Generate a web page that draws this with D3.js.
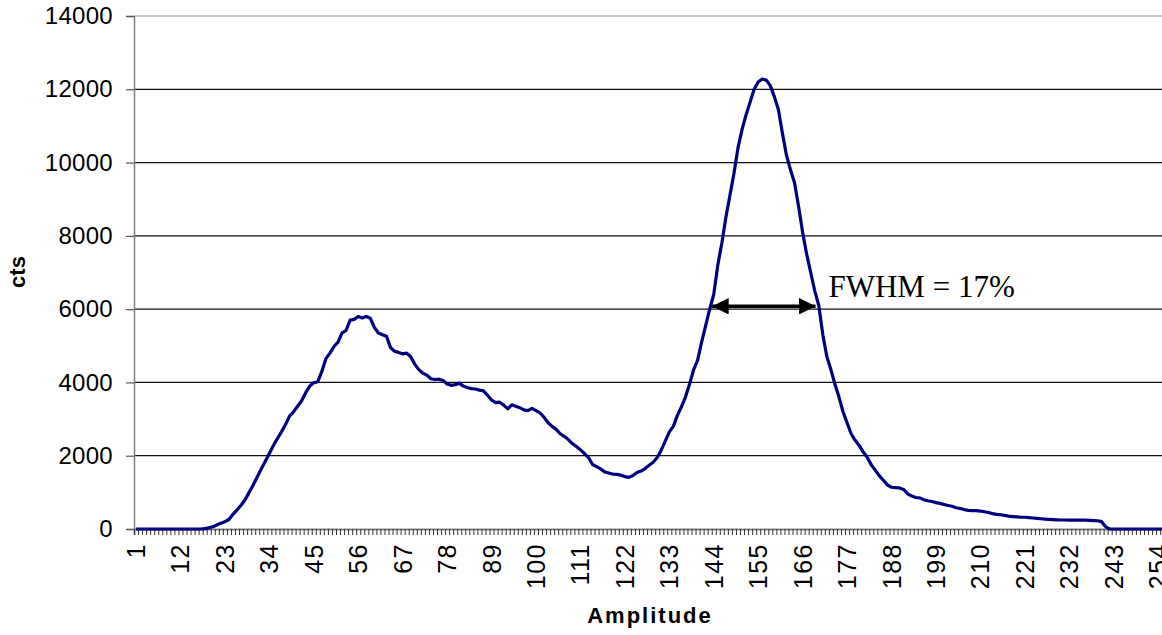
<!DOCTYPE html>
<html>
<head>
<meta charset="utf-8">
<script src="https://cdn.jsdelivr.net/npm/d3@7"></script>
<style>
  body { margin: 0; background: #fff; }
  svg { display: block; }
</style>
</head>
<body>
<div id="chart"></div>
<script>
// amplitude channels 1..256
var channels = d3.range(1, 257);

// counts per channel
var counts = [
  0, 0, 0, 0, 0, 0, 0, 0, 0, 0,
  0, 0, 0, 0, 0, 0, 0, 10, 30, 60,
  110, 160, 200, 260, 400, 520, 650, 800, 1000, 1200,
  1420, 1640, 1850, 2060, 2280, 2470, 2650, 2850, 3080, 3200,
  3350, 3500, 3720, 3900, 3990, 4020, 4300, 4650, 4800, 4980,
  5100, 5350, 5420, 5700, 5720, 5800, 5760, 5800, 5750, 5500,
  5350, 5300, 5260, 4950, 4850, 4820, 4780, 4800, 4700, 4500,
  4350, 4250, 4200, 4100, 4080, 4090, 4050, 3960, 3920, 3940,
  3980, 3900, 3860, 3830, 3820, 3790, 3770, 3650, 3520, 3450,
  3460, 3380, 3280, 3390, 3350, 3310, 3250, 3230, 3290, 3230,
  3170, 3050, 2900, 2800, 2720, 2600, 2530, 2440, 2330, 2250,
  2160, 2060, 1950, 1760, 1700, 1640, 1560, 1530, 1500, 1490,
  1470, 1430, 1410, 1460, 1540, 1580, 1650, 1740, 1820, 1950,
  2150, 2400, 2650, 2800, 3100, 3330, 3600, 3950, 4340, 4600,
  5100, 5550, 6000, 6400, 7200, 7800, 8500, 9100, 9700, 10400,
  10900, 11300, 11650, 12000, 12200, 12280, 12250, 12100, 11800, 11450,
  10800, 10200, 9800, 9450, 8800, 8100, 7500, 7000, 6500, 6100,
  5300, 4700, 4350, 3950, 3600, 3200, 2900, 2600, 2420, 2280,
  2100, 1950, 1750, 1600, 1450, 1330, 1200, 1140, 1130, 1120,
  1080, 960, 900, 860, 850, 800, 770, 750, 720, 700,
  670, 640, 620, 580, 560, 530, 510, 500, 500, 490,
  470, 450, 420, 400, 390, 370, 350, 340, 330, 320,
  320, 310, 300, 290, 280, 270, 260, 255, 250, 245,
  245, 240, 245, 240, 245, 240, 235, 230, 225, 200,
  60, 0, 0, 0, 0, 0, 0, 0, 0, 0,
  0, 0, 0, 0, 0, 0
];

// axis ticks
var yTicks = [0, 2000, 4000, 6000, 8000, 10000, 12000, 14000];
var xTickLabels = d3.range(1, 257, 11);

// FWHM annotation (channel positions and level)
var fwhmFrom = 143.6;
var fwhmTo = 169.2;
var fwhmLevel = 6080;
var fwhmText = "FWHM = 17%";

var svgWidth = 1162;
var svgHeight = 635;
var margin = { top: 16, left: 134 };
var bandW = 4.04;
var width = channels.length * bandW;
var height = 513;

var svg = d3.select("#chart")
  .append("svg")
  .attr("width", svgWidth)
  .attr("height", svgHeight);

var g = svg.append("g")
  .attr("transform", `translate(${margin.left}, ${margin.top})`);

// channel i sits in the middle of its slot
var x = d3.scaleLinear()
  .domain([0.5, channels.length + 0.5])
  .range([0, width]);

var y = d3.scaleLinear()
  .domain([0, 14000])
  .range([height, 0]);

// horizontal gridlines
g.append("g")
  .selectAll("line")
  .data(yTicks.filter(d => d > 0))
  .enter()
  .append("line")
  .attr("x1", 0)
  .attr("x2", width)
  .attr("y1", d => y(d))
  .attr("y2", d => y(d))
  .attr("stroke", d => d === 14000 ? "#9a9a9a" : "#111")
  .attr("stroke-width", 1.2);

// y axis
var yAxis = g.append("g")
  .call(d3.axisLeft(y).tickValues(yTicks).tickSize(8).tickPadding(13).tickFormat(d3.format("d")));
yAxis.select(".domain").attr("stroke", "#808080").attr("stroke-width", 1.5);
yAxis.selectAll(".tick line").attr("stroke", "#555").attr("stroke-width", 1.2);
yAxis.selectAll("text")
  .attr("font-family", "Liberation Sans, Arial, sans-serif")
  .attr("font-size", 24)
  .attr("letter-spacing", 0.3)
  .attr("fill", "#000");

// x axis: a small tick between every channel
var xAxis = g.append("g")
  .attr("transform", `translate(0, ${height})`)
  .call(d3.axisBottom(x)
    .tickValues(d3.range(0.5, channels.length + 1, 1))
    .tickSize(6)
    .tickFormat(""));
xAxis.select(".domain").attr("stroke", "#808080").attr("stroke-width", 2);
xAxis.selectAll(".tick line").attr("stroke", "#333").attr("stroke-width", 1);

// rotated channel labels
g.append("g")
  .attr("transform", `translate(0, ${height})`)
  .selectAll("text")
  .data(xTickLabels)
  .enter()
  .append("text")
  .attr("transform", d => `translate(${x(d)}, 14) rotate(-90)`)
  .attr("text-anchor", "end")
  .attr("dy", "0.36em")
  .attr("font-family", "Liberation Sans, Arial, sans-serif")
  .attr("font-size", 25)
  .attr("letter-spacing", 1.5)
  .attr("fill", "#000")
  .text(d => d);

// spectrum line
var line = d3.line()
  .x((d, i) => x(channels[i]))
  .y(d => y(d));

g.append("path")
  .datum(counts)
  .attr("d", line)
  .attr("fill", "none")
  .attr("stroke", "#000080")
  .attr("stroke-width", 3.2)
  .attr("stroke-linejoin", "round");

// FWHM double arrow
var defs = svg.append("defs");
defs.append("marker")
  .attr("id", "head")
  .attr("viewBox", "0 0 10 10")
  .attr("refX", 10)
  .attr("refY", 5)
  .attr("markerWidth", 4.6)
  .attr("markerHeight", 4.6)
  .attr("markerUnits", "strokeWidth")
  .attr("orient", "auto-start-reverse")
  .append("path")
  .attr("d", "M0,0 L10,5 L0,10 Z")
  .attr("fill", "#000");

g.append("line")
  .attr("x1", x(fwhmFrom))
  .attr("x2", x(fwhmTo))
  .attr("y1", y(fwhmLevel))
  .attr("y2", y(fwhmLevel))
  .attr("stroke", "#000")
  .attr("stroke-width", 3.6)
  .attr("marker-start", "url(#head)")
  .attr("marker-end", "url(#head)");

g.append("text")
  .attr("x", x(172.4))
  .attr("y", y(fwhmLevel) - 9)
  .attr("font-family", "Liberation Serif, Times New Roman, serif")
  .attr("font-size", 31)
  .attr("fill", "#000")
  .text(fwhmText);

// axis titles
svg.append("text")
  .attr("x", 650)
  .attr("y", 623)
  .attr("text-anchor", "middle")
  .attr("font-family", "Liberation Sans, Arial, sans-serif")
  .attr("font-weight", "bold")
  .attr("font-size", 22)
  .attr("letter-spacing", 2)
  .text("Amplitude");

svg.append("text")
  .attr("transform", "translate(25, 272) rotate(-90)")
  .attr("text-anchor", "middle")
  .attr("font-family", "Liberation Sans, Arial, sans-serif")
  .attr("font-weight", "bold")
  .attr("font-size", 22)
  .text("cts");
</script>
</body>
</html>
